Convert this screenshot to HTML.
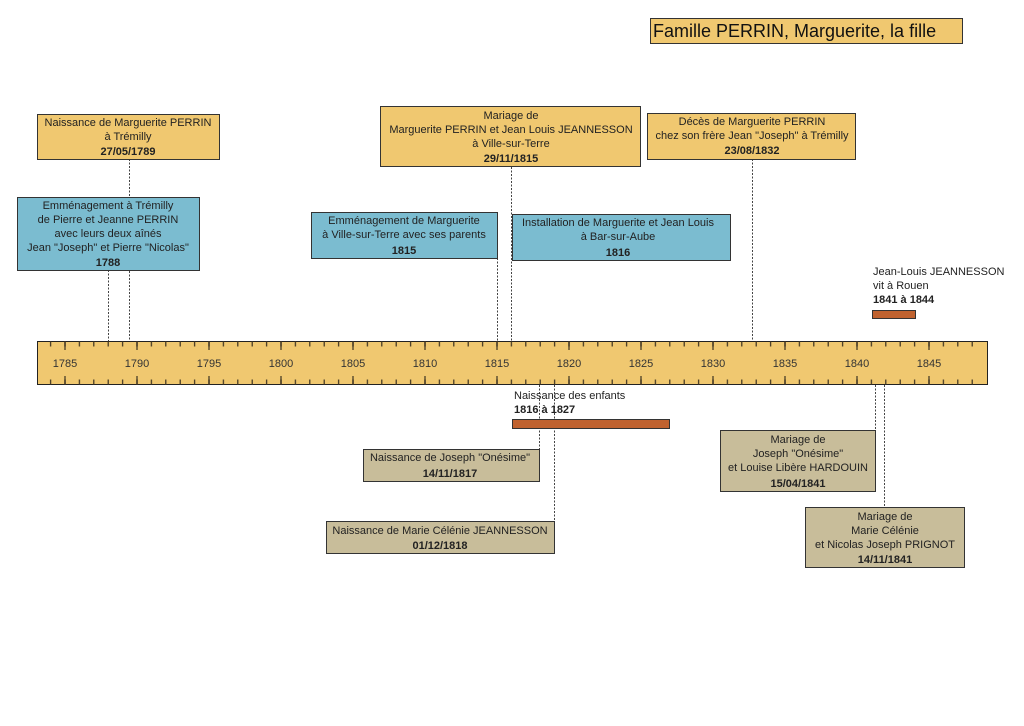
<!DOCTYPE html>
<html><head><meta charset="utf-8"><style>
html,body{margin:0;padding:0;background:#fff;}
svg{display:block;font-family:"Liberation Sans",Arial,sans-serif;}
</style></head><body>
<svg width="1024" height="726" viewBox="0 0 1024 726" xmlns="http://www.w3.org/2000/svg">
<defs>
<pattern id="mn" patternUnits="userSpaceOnUse" x="49.9" y="0" width="14.4" height="726">
<line x1="0.7" y1="341" x2="0.7" y2="346.5" stroke="#3a3020" stroke-width="1.2"/>
<line x1="0.7" y1="379.5" x2="0.7" y2="385" stroke="#3a3020" stroke-width="1.2"/>
</pattern>
<pattern id="mj" patternUnits="userSpaceOnUse" x="64.3" y="0" width="72" height="726">
<line x1="0.7" y1="341" x2="0.7" y2="350" stroke="#3a3020" stroke-width="1.2"/>
<line x1="0.7" y1="376" x2="0.7" y2="385" stroke="#3a3020" stroke-width="1.2"/>
</pattern>
</defs>

<!-- connectors -->
<g stroke="#444" stroke-width="1" stroke-dasharray="2,1.5" fill="none">
<line x1="108.5" y1="270" x2="108.5" y2="341"/>
<line x1="129.5" y1="159" x2="129.5" y2="341"/>
<line x1="497.5" y1="258" x2="497.5" y2="341"/>
<line x1="511.5" y1="167" x2="511.5" y2="341"/>
<line x1="752.5" y1="159" x2="752.5" y2="341"/>
<line x1="539.5" y1="385" x2="539.5" y2="449"/>
<line x1="554.5" y1="385" x2="554.5" y2="521"/>
<line x1="875.5" y1="385" x2="875.5" y2="430"/>
<line x1="884.5" y1="385" x2="884.5" y2="507"/>
</g>

<!-- title -->
<rect x="650.5" y="18.5" width="312" height="25" fill="#f0c870" stroke="#333"/>
<text x="653" y="37" font-size="18" fill="#111">Famille PERRIN, Marguerite, la fille</text>

<g font-size="11" fill="#222" text-anchor="middle">
<!-- A -->
<rect x="37.5" y="114.5" width="182" height="45" fill="#f0c870" stroke="#333"/>
<text x="128" y="126">Naissance de Marguerite PERRIN</text>
<text x="128" y="140">à Trémilly</text>
<text x="128" y="155" font-weight="bold">27/05/1789</text>
<!-- B -->
<rect x="17.5" y="197.5" width="182" height="73" fill="#7bbcd0" stroke="#333"/>
<text x="108" y="209">Emménagement à Trémilly</text>
<text x="108" y="223">de Pierre et Jeanne PERRIN</text>
<text x="108" y="237">avec leurs deux aînés</text>
<text x="108" y="251">Jean "Joseph" et Pierre "Nicolas"</text>
<text x="108" y="266" font-weight="bold">1788</text>
<!-- C -->
<rect x="380.5" y="106.5" width="260" height="60" fill="#f0c870" stroke="#333"/>
<text x="511" y="119">Mariage de</text>
<text x="511" y="133">Marguerite PERRIN et Jean Louis JEANNESSON</text>
<text x="511" y="147">à Ville-sur-Terre</text>
<text x="511" y="162" font-weight="bold">29/11/1815</text>
<!-- D -->
<rect x="647.5" y="113.5" width="208" height="46" fill="#f0c870" stroke="#333"/>
<text x="752" y="125">Décès de Marguerite PERRIN</text>
<text x="752" y="139">chez son frère Jean "Joseph" à Trémilly</text>
<text x="752" y="154" font-weight="bold">23/08/1832</text>
<!-- E -->
<rect x="311.5" y="212.5" width="186" height="46" fill="#7bbcd0" stroke="#333"/>
<text x="404" y="224">Emménagement de Marguerite</text>
<text x="404" y="238">à Ville-sur-Terre avec ses parents</text>
<text x="404" y="254" font-weight="bold">1815</text>
<!-- F -->
<rect x="512.5" y="214.5" width="218" height="46" fill="#7bbcd0" stroke="#333"/>
<text x="618" y="226">Installation de Marguerite et Jean Louis</text>
<text x="618" y="240">à Bar-sur-Aube</text>
<text x="618" y="256" font-weight="bold">1816</text>

<!-- bottom boxes -->
<rect x="363.5" y="449.5" width="176" height="32" fill="#c8bd9a" stroke="#333"/>
<text x="450" y="461">Naissance de Joseph "Onésime"</text>
<text x="450" y="477" font-weight="bold">14/11/1817</text>
<rect x="326.5" y="521.5" width="228" height="32" fill="#c8bd9a" stroke="#333"/>
<text x="440" y="534">Naissance de Marie Célénie JEANNESSON</text>
<text x="440" y="549" font-weight="bold">01/12/1818</text>
<rect x="720.5" y="430.5" width="155" height="61" fill="#c8bd9a" stroke="#333"/>
<text x="798" y="443">Mariage de</text>
<text x="798" y="457">Joseph "Onésime"</text>
<text x="798" y="471">et Louise Libère HARDOUIN</text>
<text x="798" y="487" font-weight="bold">15/04/1841</text>
<rect x="805.5" y="507.5" width="159" height="60" fill="#c8bd9a" stroke="#333"/>
<text x="885" y="520">Mariage de</text>
<text x="885" y="534">Marie Célénie</text>
<text x="885" y="548">et Nicolas Joseph PRIGNOT</text>
<text x="885" y="563" font-weight="bold">14/11/1841</text>
</g>

<!-- timeline -->
<rect x="37.5" y="341.5" width="950" height="43" fill="#f0c870" stroke="#222"/>
<rect x="45" y="340" width="935" height="46" fill="url(#mn)"/>
<rect x="45" y="340" width="935" height="46" fill="url(#mj)"/>
<g font-size="11" fill="#333" text-anchor="middle">
<text x="65" y="367">1785</text><text x="137" y="367">1790</text><text x="209" y="367">1795</text>
<text x="281" y="367">1800</text><text x="353" y="367">1805</text><text x="425" y="367">1810</text>
<text x="497" y="367">1815</text><text x="569" y="367">1820</text><text x="641" y="367">1825</text>
<text x="713" y="367">1830</text><text x="785" y="367">1835</text><text x="857" y="367">1840</text>
<text x="929" y="367">1845</text>
</g>

<!-- spans -->
<g font-size="11" fill="#222">
<text x="514" y="399">Naissance des enfants</text>
<text x="514" y="413" font-weight="bold">1816 à 1827</text>
<rect x="512.5" y="419.5" width="157" height="9" fill="#c0622f" stroke="#333"/>
<text x="873" y="275">Jean-Louis JEANNESSON</text>
<text x="873" y="289">vit à Rouen</text>
<text x="873" y="303" font-weight="bold">1841 à 1844</text>
<rect x="872.5" y="310.5" width="43" height="8" fill="#c0622f" stroke="#333"/>
</g>
</svg>
</body></html>
